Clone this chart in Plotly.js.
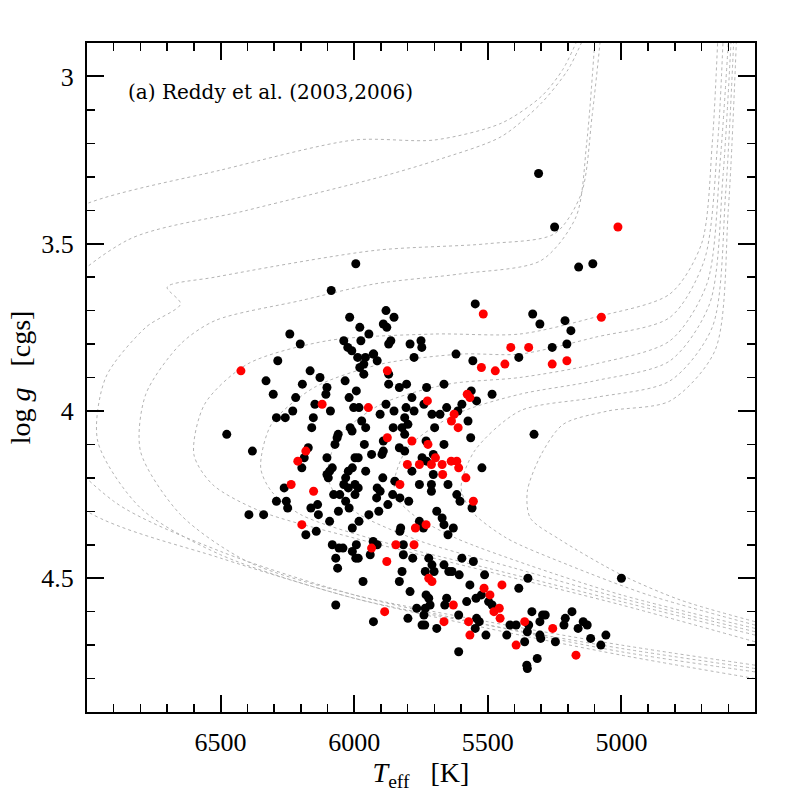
<!DOCTYPE html>
<html>
<head>
<meta charset="utf-8">
<script src="https://cdn.plot.ly/plotly-3.0.1.min.js"></script>
<style>
  body { margin: 0; background: #fff; }
  #plot { width: 797px; height: 797px; }
</style>
</head>
<body>
<div id="plot"></div>
<script>
// isochrones (Teff, logg)
var iso1T = [4500,5000,5500,6000,6500,7000,7400,7400,7000,6500,6000,5700,5450,5300,5220,5170];
var iso1G = [4.80,4.73,4.65,4.56,4.44,4.30,4.00,3.55,3.38,3.28,3.19,3.19,3.14,3.06,2.98,2.90];
var iso2T = [4500,5000,5500,6000,6500,6900,7150,7150,6850,6400,5900,5690,5450,5300,5200,5150];
var iso2G = [4.78,4.72,4.64,4.55,4.42,4.27,4.05,3.70,3.49,3.40,3.30,3.25,3.18,3.08,2.98,2.90];
var iso3T = [4500,5000,5500,6000,6500,6800,6960,6930,6780,6650,6700,6521,5922,5500,5250,5150,5110,5080];
var iso3G = [4.77,4.71,4.64,4.56,4.43,4.29,4.09,3.90,3.75,3.68,3.63,3.60,3.52,3.50,3.47,3.35,3.12,2.90];
var iso4T = [4500,5000,5500,6000,6400,6650,6800,6780,6650,6521,6200,5922,5600,5300,5170,5130,5100];
var iso4G = [4.76,4.70,4.63,4.55,4.45,4.31,4.12,3.95,3.80,3.73,3.67,3.62,3.59,3.55,3.42,3.20,2.90];
var iso5T = [4500,5000,5500,6000,6350,6530,6600,6560,6400,6100,5700,5380,5100,4818,4700,4660,4640];
var iso5G = [4.69,4.58,4.48,4.38,4.30,4.22,4.13,3.98,3.86,3.79,3.77,3.77,3.72,3.65,3.50,3.20,2.90];
var iso6T = [4500,5000,5500,5900,6200,6310,6350,6310,6150,5900,5600,5380,5100,4818,4690,4640,4620];
var iso6G = [4.67,4.57,4.47,4.39,4.31,4.24,4.17,4.04,3.93,3.86,3.83,3.83,3.78,3.72,3.55,3.20,2.90];
var iso7T = [4500,5000,5400,5750,5980,6070,6100,6060,5900,5650,5380,5100,4818,4680,4630,4600];
var iso7G = [4.66,4.56,4.47,4.39,4.31,4.25,4.19,4.08,3.98,3.92,3.90,3.86,3.79,3.62,3.25,2.90];
var iso8T = [4500,5000,5350,5620,5780,5840,5850,5800,5620,5380,5100,4818,4670,4620,4590];
var iso8G = [4.65,4.55,4.46,4.38,4.31,4.26,4.21,4.11,4.01,3.95,3.91,3.85,3.68,3.30,2.90];
var iso9T = [4500,4900,5200,5430,5560,5600,5550,5380,5100,4818,4660,4610,4580];
var iso9G = [4.64,4.55,4.46,4.38,4.30,4.23,4.12,4.00,3.96,3.91,3.75,3.35,2.90];
var iso10T = [4500,4780,5000,5229,5341,5352,5300,5218,5050,4818,4650,4600,4570];
var iso10G = [4.63,4.565,4.49,4.385,4.32,4.24,4.13,4.04,4.00,3.97,3.82,3.40,2.90];

// stars
var blackT = [5994,6086,6017,5979,5945,6241,6202,6039,5975,6024,6009,5987,5958,5927,6286,5964,5979,6165,5964,6330,
  6128,6034,6194,6102,6303,5992,6106,6219,6019,6147,6002,5982,6230,6089,6291,6258,6153,5972,6159,6015,5957,
  5547,5881,5851,5891,5878,5863,5871,5791,5750,5747,5929,5914,5776,5619,5556,5384,5871,5871,5831,5804,5729,
  5664,5562,5484,5784,5542,5739,5881,5806,5851,5776,5597,5654,5612,5903,5709,5679,5574,5811,5799,5854,5821,5699,
  5310,5250,5160,5107,5332,5305,5211,5189,5259,5204,
  6477,6381,6172,6187,6196,6008,6060,6064,6072,5962,5935,6102,5997,5985,6007,5957,6082,6092,6097,6102,6022,
  6032,6039,6022,5997,5985,5997,6262,6077,6054,6291,6254,6249,6137,6162,6032,6019,6059,6134,5945,6394,6339,
  6092,5982,6007,6142,6181,6082,6057,6042,5992,6007,5940,6069,5994,5985,6062,5967,6069,
  5811,5891,5564,5731,5664,5831,5811,5891,5896,5746,5704,5784,5729,5704,5522,5893,5848,5756,5711,5711,5649,
  5914,5903,5916,5856,5829,5796,5616,5604,5559,5874,5908,5691,5671,5664,5756,5741,5826,5829,5629,5649,5929,
  5914,5816,5816,5781,5721,5597,5554,5709,5664,5821,5734,5701,5646,5634,5607,5512,5831,5567,5384,5350,5791,
  5731,5721,5654,5579,5544,5524,5497,5716,
  5327,5000,
  5928,5799,5766,5734,5739,5746,5736,5691,5661,5609,5542,5532,5547,5507,5609,
  5484,5335,5295,5285,5185,5210,5347,5305,5417,5394,5215,5143,5128,5162,5352,5429,5305,5302,5058,5115,5362,
  5247,5077,5315,5354,5352];
var blackG = [3.56,3.64,3.72,3.75,3.77,3.77,3.80,3.79,3.79,3.81,3.82,3.84,3.84,3.83,3.85,3.86,3.87,3.88,3.89,3.91,
  3.90,3.91,3.92,3.93,3.95,3.94,3.95,3.96,3.96,3.98,3.99,3.99,4.00,4.00,4.02,4.02,4.02,4.03,4.05,4.05,4.05,
  3.68,3.70,3.72,3.74,3.75,3.79,3.80,3.80,3.79,3.81,3.83,3.85,3.84,3.83,3.85,3.84,3.89,3.92,3.93,3.92,3.93,
  3.92,3.94,3.95,3.96,3.97,3.98,3.98,3.99,4.00,4.00,3.98,3.99,4.00,4.01,4.01,4.01,4.03,4.02,4.04,4.05,4.05,4.05,
  3.29,3.45,3.57,3.56,3.71,3.74,3.73,3.76,3.81,3.80,
  4.07,4.12,4.11,4.14,4.17,4.06,4.07,4.08,4.10,4.10,4.13,4.14,4.14,4.14,4.17,4.18,4.17,4.18,4.20,4.19,4.18,
  4.20,4.22,4.23,4.22,4.23,4.25,4.23,4.25,4.25,4.27,4.27,4.29,4.28,4.29,4.27,4.29,4.30,4.31,4.31,4.31,4.31,
  4.33,4.33,4.35,4.36,4.37,4.40,4.41,4.41,4.40,4.42,4.43,4.44,4.44,4.44,4.47,4.51,4.58,
  4.07,4.09,4.08,4.09,4.10,4.11,4.12,4.12,4.13,4.14,4.13,4.18,4.15,4.19,4.17,4.20,4.21,4.22,4.22,4.24,4.22,
  4.23,4.24,4.26,4.25,4.26,4.27,4.25,4.27,4.29,4.28,4.30,4.30,4.32,4.34,4.33,4.35,4.35,4.36,4.35,4.37,4.39,
  4.40,4.40,4.43,4.44,4.44,4.44,4.45,4.46,4.46,4.48,4.48,4.48,4.48,4.48,4.49,4.49,4.51,4.52,4.53,4.50,4.54,
  4.55,4.56,4.56,4.57,4.56,4.55,4.57,4.58,
  4.07,4.50,
  4.63,4.62,4.59,4.59,4.61,4.64,4.64,4.65,4.58,4.61,4.62,4.63,4.65,4.67,4.72,
  4.58,4.60,4.61,4.61,4.60,4.62,4.64,4.63,4.64,4.64,4.64,4.63,4.64,4.65,4.66,4.67,4.67,4.68,4.67,4.68,4.69,
  4.69,4.70,4.74,4.76,4.77];
var redT = [6424,6120,5947,5517,5414,5347,5524,5472,5436,5876,5577,5567,5726,5626,5636,5611,5013,5075,5259,5204,
  6181,6211,6236,6152,6196,5935,5876,5784,5724,5696,5637,5616,5801,5756,5711,5671,5609,5669,5582,5829,5554,
  5731,5771,5844,5776,5878,5721,5709,5447,5514,5492,5629,5886,5664,5572,5567,5477,5457,5454,5362,5257,5394,5170];
var redG = [3.88,3.98,3.99,3.71,3.81,3.81,3.87,3.88,3.86,3.88,3.95,3.96,3.97,4.01,4.03,4.05,3.45,3.72,3.86,3.85,
  4.12,4.15,4.22,4.24,4.34,4.41,4.08,4.09,4.10,4.14,4.15,4.15,4.16,4.16,4.16,4.16,4.17,4.19,4.20,4.22,4.27,
  4.34,4.35,4.40,4.40,4.45,4.50,4.51,4.52,4.53,4.55,4.58,4.60,4.63,4.63,4.67,4.60,4.59,4.62,4.63,4.65,4.70,4.73];

var isoT = [iso1T, iso2T, iso3T, iso4T, iso5T, iso6T, iso7T, iso8T, iso9T, iso10T];
var isoG = [iso1G, iso2G, iso3G, iso4G, iso5G, iso6G, iso7G, iso8G, iso9G, iso10G];

var data = [];
for (var i = 0; i < isoT.length; i++) {
  data.push({
    x: isoT[i], y: isoG[i], mode: "lines", type: "scatter", hoverinfo: "skip",
    line: {color: "#b4b4b4", width: 1, dash: "dot", shape: "spline", smoothing: 0.8}
  });
}
data.push({x: blackT, y: blackG, mode: "markers", type: "scatter",
  marker: {color: "black", size: 9}});
data.push({x: redT, y: redG, mode: "markers", type: "scatter",
  marker: {color: "#ff0000", size: 9}});

var tickFont = {family: "Liberation Serif, serif", size: 26, color: "black"};
var titleFont = {family: "Liberation Serif, serif", size: 28, color: "black"};

var layout = {
  width: 797, height: 797,
  margin: {l: 87, r: 42, t: 43, b: 85},
  showlegend: false,
  paper_bgcolor: "white", plot_bgcolor: "white",
  xaxis: {
    range: [7000, 4500], showgrid: false, zeroline: false, automargin: false,
    showline: true, linecolor: "black", linewidth: 2, mirror: "ticks",
    ticks: "inside", ticklen: 17, tickwidth: 2, tickcolor: "black",
    tickmode: "array", tickvals: [6500, 6000, 5500, 5000], ticktext: ["6500", "6000", "5500", "5000"],
    tickfont: tickFont, ticklabelstandoff: 6,
    minor: {tickmode: "linear", tick0: 4500, dtick: 100, ticks: "inside", ticklen: 8, tickwidth: 1.5, tickcolor: "black"},
    title: {text: "<i>T</i><sub>eff</sub>   [K]", font: titleFont, standoff: 2}
  },
  yaxis: {
    range: [4.9, 2.9], showgrid: false, zeroline: false, automargin: false,
    showline: true, linecolor: "black", linewidth: 2, mirror: "ticks",
    ticks: "inside", ticklen: 17, tickwidth: 2, tickcolor: "black",
    tickmode: "array", tickvals: [3, 3.5, 4, 4.5], ticktext: ["3", "3.5", "4", "4.5"],
    tickfont: tickFont, ticklabelstandoff: 6,
    minor: {tickmode: "linear", tick0: 2.9, dtick: 0.1, ticks: "inside", ticklen: 8, tickwidth: 1.5, tickcolor: "black"},
    title: {text: "log <i>g</i>   [cgs]", font: titleFont, standoff: 2}
  },
  annotations: [
    {text: "(a) Reddy et al. (2003,2006)", xref: "paper", yref: "paper", x: 0.058, y: 0.927,
     xanchor: "left", yanchor: "middle", showarrow: false,
     font: {family: "DejaVu Serif, serif", size: 20, color: "black"}}
  ]
};

Plotly.newPlot("plot", data, layout, {staticPlot: true});
</script>
</body>
</html>
